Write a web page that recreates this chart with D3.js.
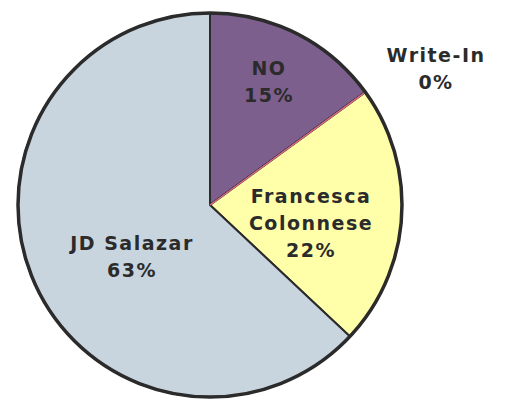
<!DOCTYPE html>
<html>
<head>
<meta charset="utf-8">
<script src="https://cdn.jsdelivr.net/npm/d3@7"></script>
<style>
  body { margin: 0; background: #fff; }
  #chart svg { display: block; }
</style>
</head>
<body>
<div id="chart"></div>
<script>
// slice data, clockwise from 12 o'clock
var candidates = ["NO", "Write-In", "Francesca Colonnese", "JD Salazar"];
var shares = [15, 0, 22, 63];
var labelLines = [["NO", "15%"], ["Write-In", "0%"], ["Francesca", "Colonnese", "22%"], ["JD Salazar", "63%"]];

// layout / styling
var width = 506, height = 400;
var cx = 210, cy = 205, radius = 192;
var colors = ["#7d5f8e", "#e06a88", "#ffffaa", "#c9d5de"];
var labelAt = [[269, 75], [436, 62], [311, 203], [132, 250]];
var lineGap = 27;

var svg = d3.select("#chart")
  .append("svg")
    .attr("width", width)
    .attr("height", height);

var g = svg.append("g")
  .attr("transform", "translate(" + cx + "," + cy + ")");

var pie = d3.pie().sort(null).value(function (d) { return d; });
var arc = d3.arc().innerRadius(0).outerRadius(radius);
var arcs = pie(shares);

// slices
g.selectAll("path.slice")
  .data(arcs)
  .enter()
  .append("path")
    .attr("class", "slice")
    .attr("d", arc)
    .attr("fill", function (d, i) { return colors[i]; })
    .attr("stroke", "#2b2b2b")
    .attr("stroke-width", 2)
    .attr("stroke-linejoin", "round");

// 0% slice only shows as a thin line
g.selectAll("path.zero")
  .data(arcs.filter(function (d) { return d.value === 0; }))
  .enter()
  .append("path")
    .attr("class", "zero")
    .attr("d", arc)
    .attr("fill", "none")
    .attr("stroke", function (d) { return colors[d.index]; })
    .attr("stroke-width", 1.5);

// outer ring
g.append("circle")
  .attr("r", radius)
  .attr("fill", "none")
  .attr("stroke", "#2b2b2b")
  .attr("stroke-width", 3.5);

// labels
var labels = svg.append("g")
  .selectAll("text")
  .data(labelLines)
  .enter()
  .append("text")
    .attr("text-anchor", "middle")
    .attr("font-family", "DejaVu Sans, Verdana, sans-serif")
    .attr("font-weight", "bold")
    .attr("font-size", 19)
    .attr("letter-spacing", 1.5)
    .attr("fill", "#2b2b2b")
    .attr("transform", function (d, i) { return "translate(" + labelAt[i][0] + "," + labelAt[i][1] + ")"; });

labels.selectAll("tspan")
  .data(function (d) { return d; })
  .enter()
  .append("tspan")
    .attr("x", 0)
    .attr("y", function (d, j) { return j * lineGap; })
    .text(function (d) { return d; });
</script>
</body>
</html>
